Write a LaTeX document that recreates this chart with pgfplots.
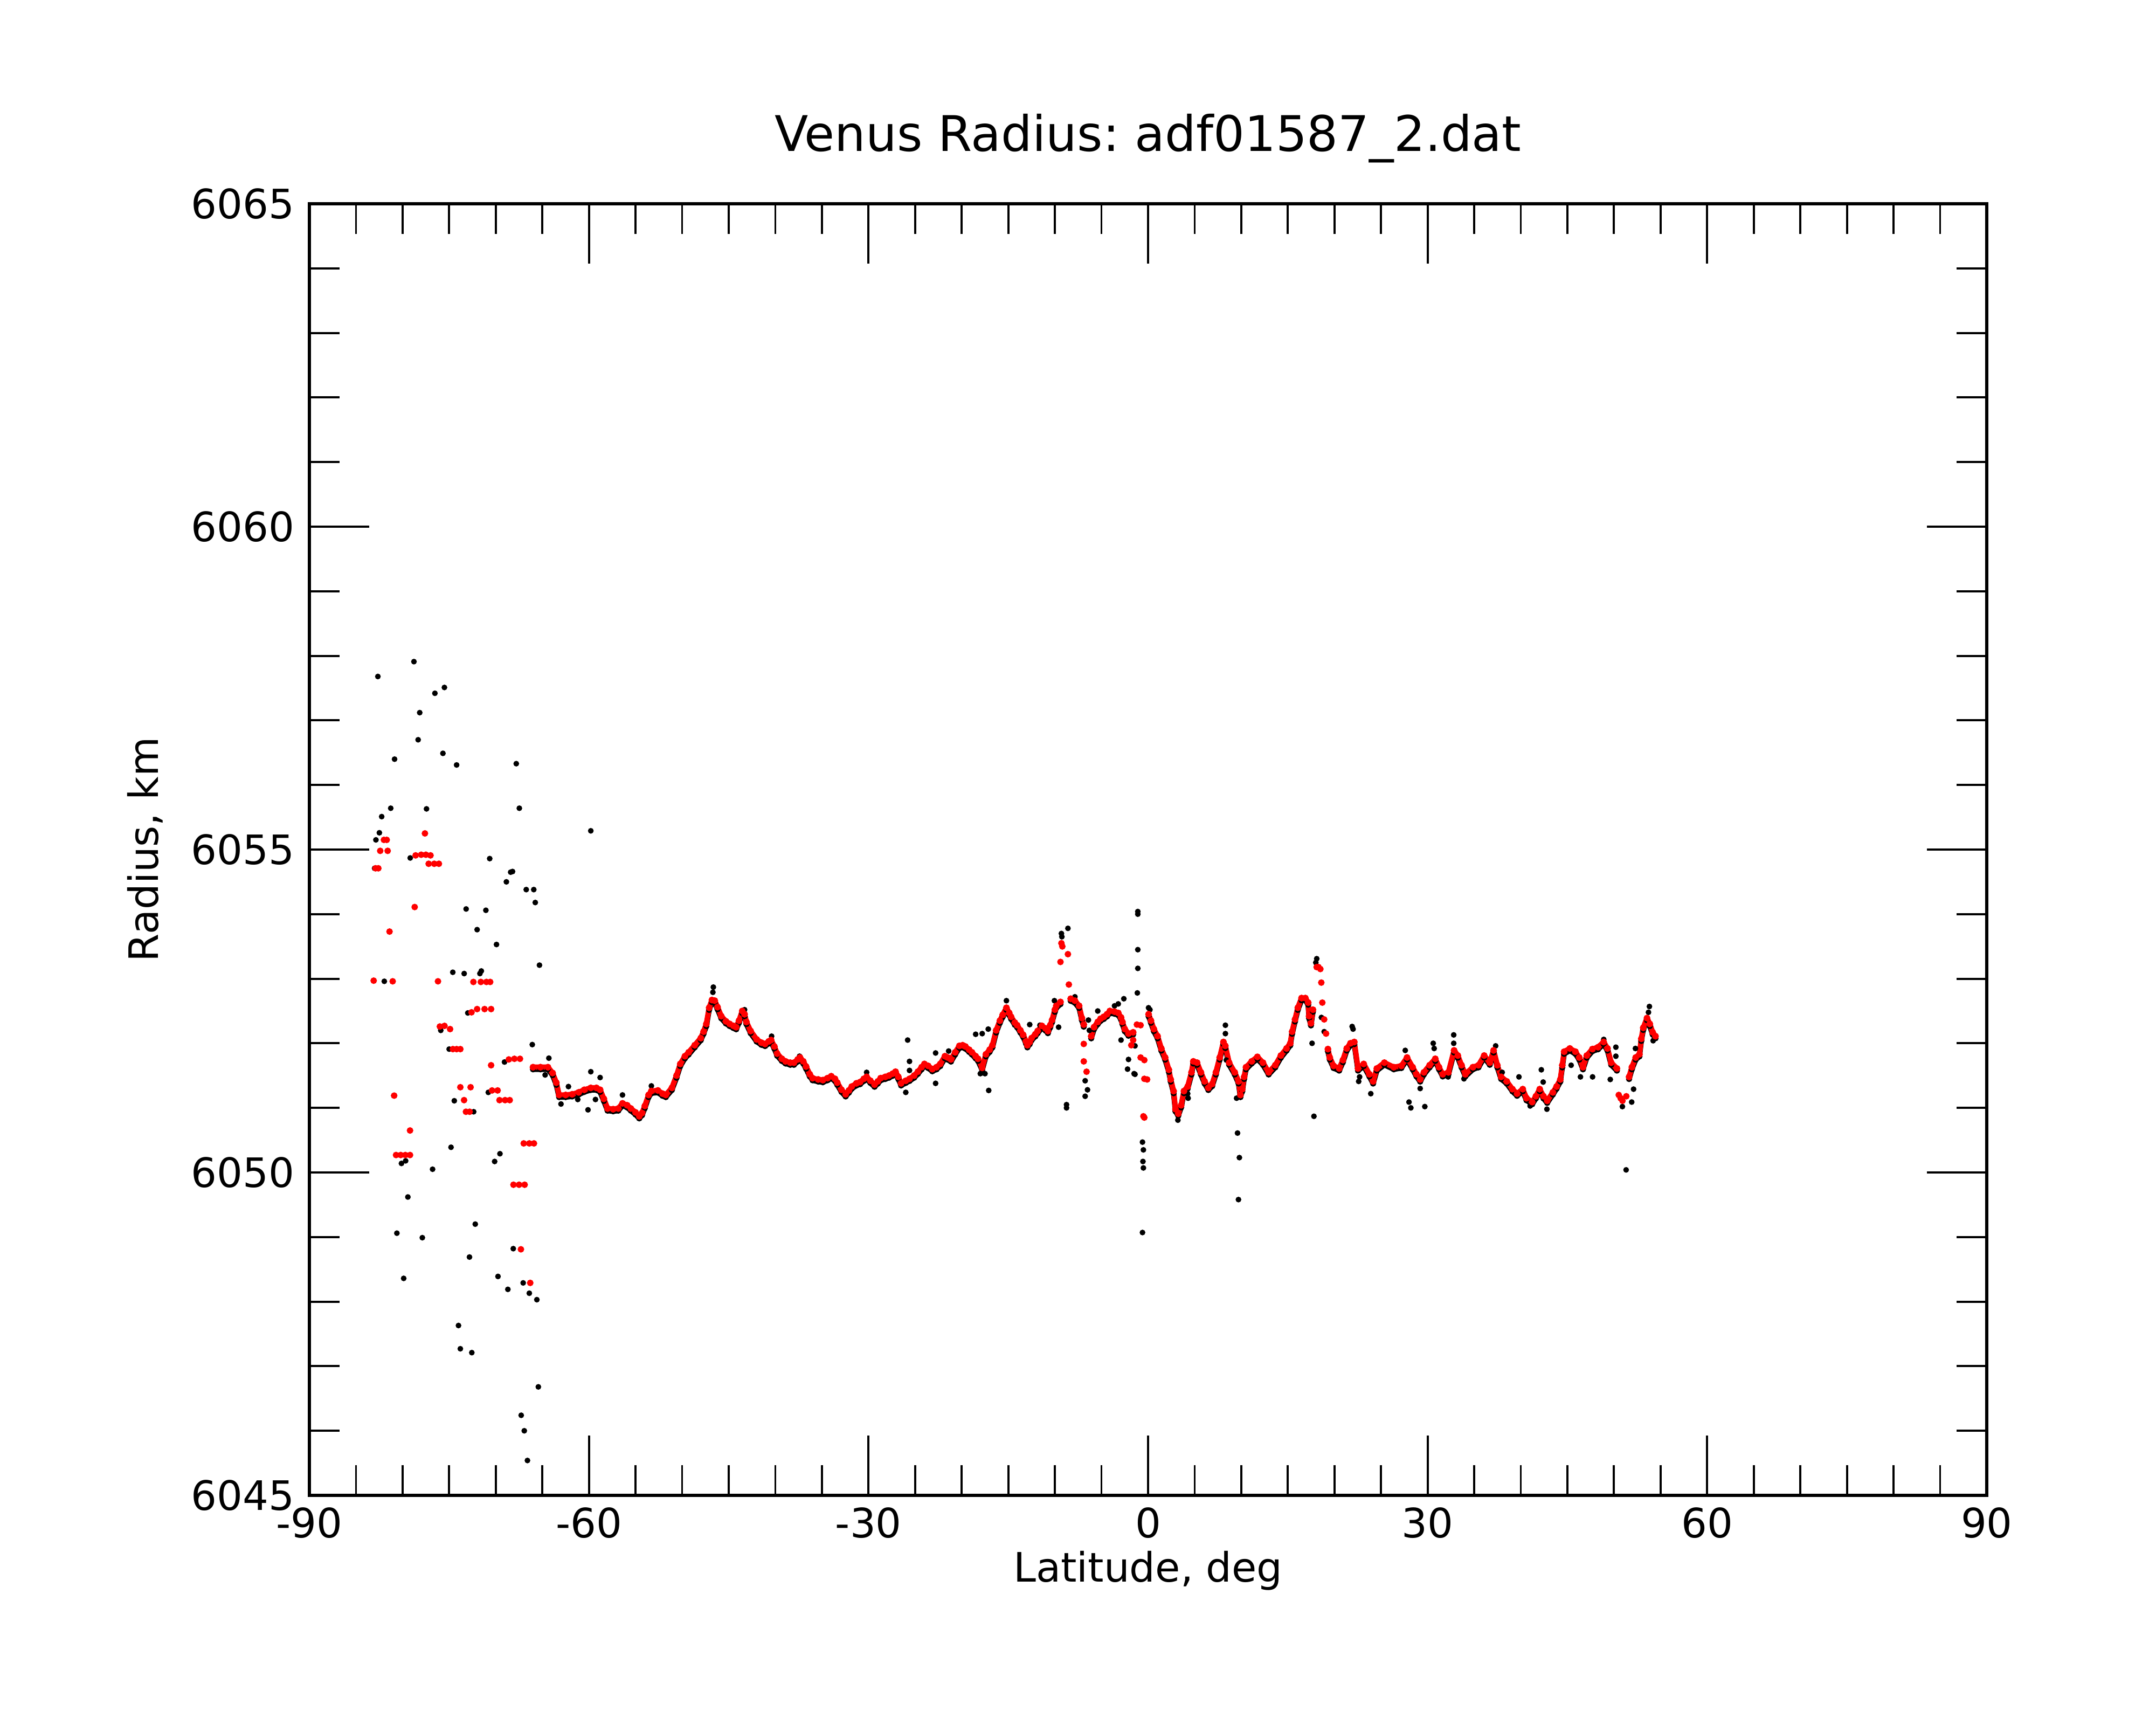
\documentclass[border=0pt]{standalone}
\usepackage{fontspec}
\setmainfont{DejaVu Sans}
\usepackage{pgfplots}
\usepackage{pgfplotstable}
\pgfplotsset{compat=1.18}
\frenchspacing

% filtered curve segments (red)
\pgfplotstableread{
x y
-66.0 6051.63
-65.2 6051.63
-64.4 6051.63
-63.9 6051.54
-63.5 6051.39
-63.2 6051.20
-62.5 6051.20
-61.8 6051.21
-61.1 6051.24
-60.5 6051.28
-59.8 6051.31
-59.2 6051.31
-58.8 6051.28
-58.4 6051.14
-58.0 6050.99
-57.4 6050.98
-56.85 6050.99
-56.4 6051.07
-55.9 6051.04
-55.5 6050.99
-55.0 6050.93
-54.6 6050.87
-54.3 6050.92
-54.0 6051.03
-53.6 6051.20
-53.3 6051.26
-52.6 6051.27
-52.1 6051.22
-51.75 6051.20
-51.1 6051.31
-50.6 6051.50
-50.2 6051.68
-49.7 6051.80
-49.3 6051.86
-48.65 6051.97
-48.0 6052.08
-47.7 6052.18
-47.4 6052.30
-47.1 6052.55
-46.8 6052.67
-46.5 6052.66
-46.2 6052.56
-45.8 6052.42
-45.3 6052.34
-44.9 6052.30
-44.5 6052.27
-44.2 6052.25
-43.9 6052.35
-43.55 6052.50
-43.3 6052.45
-43.1 6052.33
-42.65 6052.19
-42.0 6052.06
-41.5 6052.01
-41.1 6051.99
-40.7 6052.03
-40.45 6052.05
-40.1 6051.95
-39.8 6051.84
-39.3 6051.76
-38.9 6051.72
-38.4 6051.70
-38.0 6051.70
-37.6 6051.75
-37.35 6051.78
-37.0 6051.72
-36.7 6051.64
-36.3 6051.52
-36.0 6051.46
-35.4 6051.44
-34.9 6051.43
-34.4 6051.46
-34.0 6051.49
-33.6 6051.45
-33.35 6051.39
-32.9 6051.28
-32.45 6051.21
-32.1 6051.27
-31.8 6051.33
-31.3 6051.38
-30.9 6051.40
-30.5 6051.45
-30.2 6051.48
-29.8 6051.42
-29.35 6051.36
-29.0 6051.41
-28.7 6051.46
-28.2 6051.48
-27.8 6051.50
-27.4 6051.53
-27.1 6051.56
-26.8 6051.48
-26.5 6051.38
-26.0 6051.42
-25.6 6051.45
-25.1 6051.50
-24.7 6051.56
-24.3 6051.63
-24.0 6051.68
-23.6 6051.65
-23.15 6051.60
-22.7 6051.63
-22.3 6051.68
-21.8 6051.80
-21.5 6051.78
-21.15 6051.75
-20.7 6051.86
-20.25 6051.96
-19.9 6051.97
-19.6 6051.95
-19.2 6051.90
-18.9 6051.86
-18.5 6051.80
-18.25 6051.76
-17.8 6051.62
-17.4 6051.83
-17.0 6051.90
-16.7 6051.97
-16.3 6052.20
-15.9 6052.35
-15.6 6052.44
-15.2 6052.55
-14.9 6052.47
-14.7 6052.41
-14.3 6052.32
-14.05 6052.28
-13.7 6052.20
-13.4 6052.13
-13.1 6052.03
-12.95 6051.97
-12.7 6052.02
-12.5 6052.08
-12.1 6052.14
-11.85 6052.19
-11.4 6052.27
-11.0 6052.23
-10.75 6052.19
-10.5 6052.28
-10.3 6052.36
-10.0 6052.52
-9.85 6052.58
-9.4 6052.64
}\segA

\pgfplotstableread{
x y
-8.3 6052.69
-7.85 6052.66
-7.4 6052.58
-7.1 6052.39
-6.9 6052.29
}\segB

\pgfplotstableread{
x y
-6.1 6052.11
-5.8 6052.25
-5.4 6052.33
-5.1 6052.38
-4.75 6052.41
-4.4 6052.45
-4.1 6052.50
-3.6 6052.49
-3.2 6052.47
-2.9 6052.40
-2.75 6052.33
-2.5 6052.22
-2.1 6052.15
-1.6 6052.17
}\segC

\pgfplotstableread{
x y
0.06 6052.45
0.31 6052.35
0.62 6052.22
1.02 6052.11
1.42 6051.92
1.83 6051.78
2.23 6051.59
2.43 6051.44
2.74 6051.26
2.94 6050.98
3.24 6050.91
3.55 6051.04
3.85 6051.26
4.25 6051.33
4.66 6051.55
4.86 6051.72
5.26 6051.70
5.67 6051.55
6.07 6051.41
6.47 6051.31
6.88 6051.37
7.28 6051.55
7.69 6051.78
8.09 6052.02
8.29 6051.96
8.70 6051.70
9.30 6051.55
9.71 6051.41
9.91 6051.20
10.11 6051.29
10.31 6051.48
10.51 6051.63
11.12 6051.72
11.73 6051.79
12.33 6051.70
12.94 6051.55
13.65 6051.66
14.25 6051.81
14.86 6051.92
15.26 6052.00
15.46 6052.18
15.77 6052.37
16.07 6052.55
16.47 6052.70
16.88 6052.70
17.18 6052.63
17.28 6052.42
17.48 6052.31
17.69 6052.52
}\segD

\pgfplotstableread{
x y
19.30 6051.91
19.50 6051.78
19.91 6051.65
20.51 6051.61
20.91 6051.74
21.32 6051.92
21.72 6052.00
22.13 6052.02
22.53 6051.61
23.14 6051.68
23.75 6051.52
24.15 6051.41
24.55 6051.61
25.36 6051.70
26.37 6051.63
27.18 6051.65
27.79 6051.78
28.39 6051.63
28.80 6051.52
29.20 6051.44
29.60 6051.55
30.21 6051.66
30.82 6051.76
31.22 6051.63
31.62 6051.52
32.23 6051.55
32.84 6051.89
33.24 6051.81
33.64 6051.66
34.05 6051.52
34.86 6051.63
35.46 6051.66
36.07 6051.81
36.67 6051.70
37.08 6051.89
37.48 6051.66
37.89 6051.48
38.49 6051.41
39.10 6051.29
39.60 6051.22
40.21 6051.29
40.61 6051.15
41.22 6051.09
41.62 6051.18
42.03 6051.29
42.43 6051.18
42.83 6051.11
43.44 6051.24
43.84 6051.33
44.24 6051.44
44.45 6051.66
44.65 6051.87
45.26 6051.92
45.86 6051.87
46.27 6051.78
46.67 6051.63
47.08 6051.81
47.68 6051.91
48.29 6051.94
48.89 6052.02
49.30 6051.92
49.70 6051.70
50.31 6051.61
}\segE

\pgfplotstableread{
x y
51.62 6051.48
51.92 6051.63
52.33 6051.78
52.73 6051.83
52.93 6052.07
53.14 6052.24
53.54 6052.39
53.84 6052.30
54.15 6052.17
54.45 6052.11
}\segF

% isolated filtered points (red)
\pgfplotstableread{
x y
-82.9 6054.71
-82.6 6054.71
-82.4 6054.98
-81.6 6054.98
-82.0 6055.15
-81.7 6055.15
-77.6 6055.25
-78.6 6054.91
-78.0 6054.92
-77.5 6054.92
-77.0 6054.91
-77.2 6054.78
-76.6 6054.78
-76.1 6054.78
-78.7 6054.11
-81.4 6053.73
-83.1 6052.97
-81.06 6052.96
-76.2 6052.96
-76.0 6052.26
-75.5 6052.27
-74.9 6052.22
-74.6 6051.91
-74.2 6051.91
-73.8 6051.91
-72.4 6052.95
-71.6 6052.95
-71.0 6052.95
-70.6 6052.95
-72.6 6052.48
-72.0 6052.53
-71.2 6052.53
-70.5 6052.53
-68.6 6051.75
-68.0 6051.76
-67.4 6051.76
-70.5 6051.66
-73.8 6051.32
-72.7 6051.32
-73.4 6051.12
-73.2 6050.94
-72.8 6050.94
-70.4 6051.27
-69.8 6051.27
-69.6 6051.12
-69.0 6051.12
-68.5 6051.12
-80.9 6051.19
-79.2 6050.65
-80.7 6050.27
-80.2 6050.27
-79.7 6050.27
-79.2 6050.27
-67.0 6050.45
-66.4 6050.45
-65.9 6050.45
-68.1 6049.81
-67.5 6049.81
-66.9 6049.81
-67.3 6048.81
-66.3 6048.29
-9.3 6053.55
-9.2 6053.50
-9.4 6053.26
-8.6 6053.38
-8.5 6052.91
-6.9 6051.99
-6.9 6051.72
-6.6 6051.56
-1.6 6052.05
-1.8 6051.97
-1.2 6052.29
-0.8 6052.28
-0.8 6051.78
-0.4 6051.74
-0.4 6051.45
-0.1 6051.44
-0.5 6050.87
-0.4 6050.85
18.09 6053.18
18.29 6053.18
18.49 6053.15
18.59 6052.94
18.70 6052.63
18.90 6052.37
19.10 6052.15
50.51 6051.20
50.71 6051.15
50.91 6051.11
51.32 6051.18
}\redpts

% raw points away from the filtered curve (black)
\pgfplotstableread{
x y
-82.65 6057.68
-78.78 6057.91
-76.53 6057.42
-75.51 6057.51
-78.16 6057.12
-78.33 6056.70
-80.86 6056.40
-75.67 6056.49
-74.20 6056.31
-67.80 6056.33
-67.47 6055.64
-81.27 6055.64
-77.43 6055.63
-82.24 6055.51
-82.49 6055.26
-82.86 6055.15
-59.80 6055.29
-79.18 6054.87
-70.65 6054.86
-68.40 6054.65
-68.20 6054.66
-68.86 6054.50
-66.73 6054.38
-65.92 6054.38
-65.76 6054.18
-73.18 6054.08
-71.06 6054.06
-72.00 6053.76
-69.92 6053.53
-65.31 6053.21
-74.61 6053.10
-73.39 6053.08
-71.70 6053.08
-71.55 6053.12
-73.00 6052.47
-71.20 6052.53
-75.90 6052.20
-75.00 6051.91
-66.08 6051.98
-69.06 6051.71
-70.80 6051.24
-74.45 6051.11
-72.37 6050.94
-80.94 6051.19
-74.80 6050.39
-80.12 6050.14
-79.67 6050.18
-76.78 6050.05
-70.12 6050.17
-69.55 6050.29
-79.43 6049.62
-72.20 6049.20
-80.61 6049.06
-77.88 6048.99
-68.12 6048.82
-72.82 6048.69
-79.88 6048.36
-69.76 6048.39
-68.70 6048.19
-67.06 6048.29
-66.40 6048.13
-65.59 6048.03
-74.00 6047.63
-73.80 6047.27
-72.57 6047.21
-65.43 6046.68
-67.27 6046.24
-66.94 6046.00
-66.60 6045.54
-81.96 6052.96
-83.00 6054.71
-64.3 6051.77
-64.7 6051.51
-63.0 6051.06
-62.2 6051.33
-61.2 6051.13
-59.8 6051.56
-59.3 6051.13
-60.1 6050.97
-58.8 6051.47
-56.4 6051.20
-53.3 6051.34
-46.65 6052.87
-46.7 6052.79
-45.1 6052.31
-43.3 6052.52
-40.4 6052.11
-37.4 6051.80
-30.2 6051.55
-25.8 6052.05
-25.6 6051.72
-25.6 6051.58
-26.0 6051.24
-22.8 6051.85
-22.8 6051.38
-21.4 6051.88
-18.5 6052.14
-17.8 6052.15
-17.15 6052.22
-18.0 6051.53
-17.5 6051.53
-17.1 6051.27
-15.2 6052.66
-12.7 6052.29
-11.6 6052.28
-10.05 6052.66
-9.6 6052.25
-9.3 6053.70
-9.25 6053.65
-8.6 6053.78
-8.75 6051.05
-8.75 6051.00
-7.85 6052.72
-6.4 6052.36
-6.3 6052.20
-6.1 6052.10
-6.75 6051.42
-6.5 6051.28
-6.75 6051.18
-5.4 6052.50
-3.6 6052.58
-3.2 6052.61
-2.6 6052.69
-2.9 6052.05
-2.1 6051.75
-2.2 6051.60
-1.5 6051.53
-1.1 6054.04
-1.1 6054.00
-1.1 6053.45
-1.1 6053.16
-1.15 6052.78
-0.6 6050.47
-0.5 6050.35
-0.55 6050.17
-0.5 6050.07
-0.6 6049.07
0.05 6052.55
0.2 6052.52
-1.4 6051.96
-1.4 6051.52
3.2 6050.81
4.25 6051.22
4.3 6051.15
8.3 6052.28
8.3 6052.15
8.4 6051.74
9.5 6051.15
9.6 6050.61
9.8 6050.23
9.7 6049.58
10.1 6051.25
17.5 6052.28
17.6 6052.00
17.8 6050.87
18.1 6053.31
18.0 6053.25
18.6 6052.40
18.9 6052.18
21.9 6052.26
22.0 6052.22
22.6 6051.41
22.7 6051.48
23.9 6051.22
27.6 6051.89
28.0 6051.09
28.2 6051.00
29.7 6051.02
29.2 6051.30
30.6 6052.00
30.7 6051.92
32.8 6052.13
32.8 6052.00
32.2 6051.48
33.9 6051.45
37.3 6051.96
38.0 6051.55
39.8 6051.48
41.0 6051.03
42.2 6051.59
42.4 6051.40
42.8 6050.98
45.4 6051.66
46.4 6051.48
47.7 6051.48
48.9 6052.06
50.2 6051.94
50.2 6051.80
49.6 6051.44
50.9 6051.02
51.3 6050.04
51.9 6051.09
52.1 6051.29
52.3 6051.92
53.8 6052.57
53.7 6052.48
54.2 6052.04
}\blackpts

\begin{document}
\begin{tikzpicture}
\path[use as bounding box] (-1.435in,-1.065in) rectangle (8.565in,6.935in);
\begin{axis}[
  at={(0,0)}, anchor=south west,
  scale only axis, width=7.78in, height=5.99in,
  xmin=-90, xmax=90, ymin=6045, ymax=6065,
  xtick={-90,-60,-30,0,30,60,90},
  xticklabels={-90,-60,-30,0,30,60,90},
  ytick={6045,6050,6055,6060,6065},
  yticklabels={6045,6050,6055,6060,6065},
  minor x tick num=5, minor y tick num=4,
  tick align=inside,
  major tick length=0.277in, minor tick length=0.141in,
  tick style={line width=0.7pt, black},
  axis line style={line width=1pt},
  ticklabel style={font=\fontsize{13.6}{16}\selectfont},
  xticklabel style={yshift=-0.6pt},
  yticklabel style={xshift=-1.5pt},
  title={Venus Radius: adf01587\_2.dat},
  xlabel={Latitude, deg},
  ylabel={Radius, km},
  every axis title/.style={at={(axis description cs:0.5,1.0405)}, anchor=base, font=\fontsize{16.45}{20}\selectfont},
  every axis x label/.style={at={(axis description cs:0.5,-0.0669)}, anchor=base, font=\fontsize{13.6}{16}\selectfont},
  every axis y label/.style={at={(axis description cs:-0.090,0.5)}, anchor=base, rotate=90, font=\fontsize{13.6}{16}\selectfont},
  clip=false,
]
\pgfplotsset{
  blk/.style={black, line width=1.8pt, line join=round, mark=*, mark size=0.9pt, mark options={line width=0.3pt}, yshift=-0.7pt},
  rd/.style={red, line width=1.8pt, line join=round, mark=*, mark size=1.0pt, mark options={line width=0.3pt}},
}
\addplot[only marks, black, mark=*, mark size=0.8pt, mark options={line width=0.3pt}] table {\blackpts};
\addplot[blk] table {\segA};
\addplot[blk] table {\segB};
\addplot[blk] table {\segC};
\addplot[blk] table {\segD};
\addplot[blk] table {\segE};
\addplot[blk] table {\segF};
\addplot[rd] table {\segA};
\addplot[rd] table {\segB};
\addplot[rd] table {\segC};
\addplot[rd] table {\segD};
\addplot[rd] table {\segE};
\addplot[rd] table {\segF};
\addplot[only marks, red, mark=*, mark size=0.95pt, mark options={line width=0.3pt}] table {\redpts};
\end{axis}
\end{tikzpicture}
\end{document}
